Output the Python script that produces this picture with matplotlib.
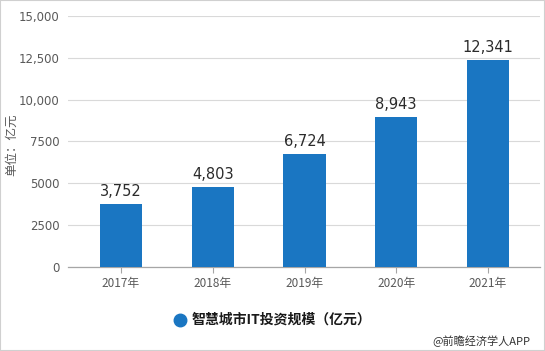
"""
Smart city IT investment scale, 2017-2021.
"""

import matplotlib.pyplot as plt
from matplotlib.patches import Rectangle

plt.rcParams["font.family"] = ["DejaVu Sans", "Noto Sans CJK SC"]

years = ["2017年", "2018年", "2019年", "2020年", "2021年"]
values = [3752, 4803, 6724, 8943, 12341]
yticks = [0, 2500, 5000, 7500, 10000, 12500, 15000]
ytick_labels = ["0", "2500", "5000", "7500", "10,000", "12,500", "15,000"]
series_name = "智慧城市IT投资规模（亿元）"

W, H = 545, 351
fig = plt.figure(figsize=(W / 100, H / 100), dpi=100)

left, right, top, bottom = 68, 540, 16, 267
ax = fig.add_axes([left / W, 1 - bottom / H, (right - left) / W, (bottom - top) / H])

x = list(range(len(years)))
bar_color = "#1a76c2"
ax.bar(x, values, width=0.46, color=bar_color, zorder=3)

for xi, v in zip(x, values):
    ax.text(xi, v + 300, f"{v:,}", ha="center", va="bottom",
            fontsize=10.5, color="#2b2b2b", zorder=4)

ax.set_xlim(-0.578, 4.567)
ax.set_ylim(0, 15000)
ax.set_yticks(yticks)
ax.set_yticklabels(ytick_labels)
ax.set_xticks(x)
ax.set_xticklabels(years, family=["Noto Sans CJK SC"])

ax.grid(axis="y", color="#d9d9d9", linewidth=0.8, zorder=0)
for side in ["top", "right", "left"]:
    ax.spines[side].set_visible(False)
ax.spines["bottom"].set_color("#a6a6a6")
ax.spines["bottom"].set_linewidth(0.9)

ax.tick_params(axis="y", length=0, pad=6, labelsize=8.5, labelcolor="#595959")
ax.tick_params(axis="x", length=4, color="#a6a6a6", pad=3,
               labelsize=8.5, labelcolor="#595959")

fig.text(12 / W, 1 - 145 / H, "单位：亿元", rotation=90, ha="center",
         va="center", fontsize=9, color="#595959", family=["Noto Sans CJK SC"])

# legend
fig.lines.append(plt.Line2D([180 / W], [1 - 320 / H], marker="o",
                            markersize=9, color=bar_color,
                            transform=fig.transFigure))
fig.text(192 / W, 1 - 320 / H, series_name, ha="left", va="center",
         fontsize=10, fontweight="bold", color="#1a1a1a",
         family=["Noto Sans CJK SC"])

fig.text(432 / W, 1 - 341 / H, "@前瞻经济学人APP", ha="left", va="center",
         fontsize=8, color="#333333", family=["Noto Sans CJK SC", "DejaVu Sans"])

fig.patches.append(Rectangle((0, 0), 1, 1, transform=fig.transFigure,
                             fill=False, edgecolor="#d0d0d0", linewidth=1.5))

fig.savefig("out.png", dpi=100)
plt.close(fig)
